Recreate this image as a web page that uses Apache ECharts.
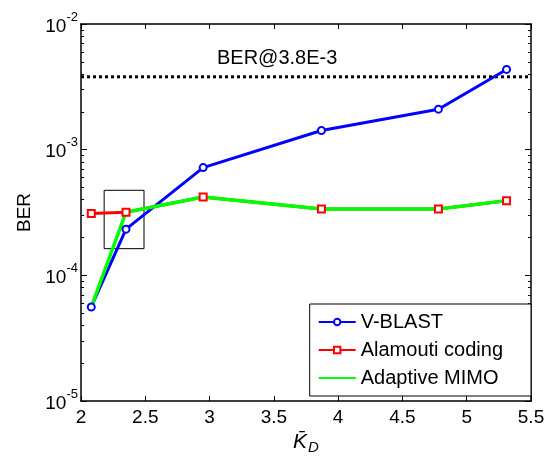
<!DOCTYPE html>
<html>
<head>
<meta charset="utf-8">
<script src="https://cdn.jsdelivr.net/npm/echarts@6/dist/echarts.min.js"></script>
<style>
  html, body { margin: 0; padding: 0; background: #fff; }
  #chart { width: 551px; height: 456px; }
</style>
</head>
<body>
<div id="chart"></div>
<script>
// K_D values (x) shared by all curves
const kd = [2.08, 2.35, 2.95, 3.87, 4.78, 5.31];
const vblast = [5.6e-5, 2.33e-4, 7.2e-4, 1.42e-3, 2.1e-3, 4.35e-3];
const alamouti = [3.1e-4, 3.18e-4, 4.2e-4, 3.37e-4, 3.37e-4, 3.93e-4];
const adaptive = [5.6e-5, 3.18e-4, 4.2e-4, 3.37e-4, 3.37e-4, 3.93e-4];
const seriesNames = ['V-BLAST', 'Alamouti coding', 'Adaptive MIMO'];
const berTarget = 3.8e-3;
const berTargetText = 'BER@3.8E-3';
const xRange = [2, 5.5];
const zoomBox = { x: [2.18, 2.49], y: [4.75e-4, 1.63e-4] };
const minorTicks = [];
for (let e = -5; e < -2; e++) {
    for (let k = 2; k <= 9; k++) minorTicks.push(k * Math.pow(10, e));
}

const pairs = function (ys) {
    return kd.map(function (x, i) { return [x, ys[i]]; });
};

const font = 'Liberation Sans, Arial, Helvetica, sans-serif';
const chart = echarts.init(document.getElementById('chart'));

const xBase = {
    type: 'value', min: xRange[0], max: xRange[1], interval: 0.5,
    axisLine: { lineStyle: { color: '#000', width: 1.5 } },
    axisTick: { inside: true, length: 5, lineStyle: { color: '#000', width: 1 } },
    splitLine: { show: false }
};
const yBase = {
    type: 'log', logBase: 10, min: 1e-5, max: 1e-2,
    axisLine: { lineStyle: { color: '#000', width: 1.5 } },
    splitLine: { show: false }
};

const option = {
    backgroundColor: '#fff',
    animation: false,
    textStyle: { fontFamily: font },
    grid: { left: 81, right: 20, top: 24, bottom: 55, outerBoundsMode: 'none' },
    title: {
        text: berTargetText,
        left: 217, top: 48, padding: 0,
        textStyle: { fontSize: 20, fontWeight: 'normal', color: '#000', fontFamily: font }
    },
    legend: {
        data: [
            { name: seriesNames[0] },
            { name: seriesNames[1] },
            { name: seriesNames[2], itemStyle: { opacity: 0 } }
        ],
        orient: 'vertical',
        right: 20, top: 304,
        padding: [8, 28, 8, 8],
        itemGap: 8,
        itemWidth: 37, itemHeight: 8,
        borderColor: '#000', borderWidth: 1,
        backgroundColor: '#fff',
        textStyle: { fontSize: 20, color: '#000', fontFamily: font }
    },
    xAxis: [
        Object.assign({}, xBase, {
            position: 'bottom',
            name: '{k|K\u0304}{d|D}',
            nameLocation: 'middle', nameGap: 29,
            nameTextStyle: {
                rich: {
                    k: { fontSize: 21, fontStyle: 'italic', color: '#000', fontFamily: font },
                    d: { fontSize: 15, fontStyle: 'italic', color: '#000', fontFamily: font, padding: [10, 0, 0, 1] }
                }
            },
            axisLabel: { fontSize: 19, color: '#000', margin: 7, fontFamily: font }
        }),
        Object.assign({}, xBase, { position: 'top', axisLabel: { show: false } })
    ],
    yAxis: [
        Object.assign({}, yBase, {
            position: 'left',
            name: 'BER', nameLocation: 'middle', nameGap: 45,
            nameTextStyle: { fontSize: 19, color: '#000', fontFamily: font },
            axisTick: { inside: true, length: 6, lineStyle: { color: '#000', width: 1 } },
            axisLabel: {
                margin: 3, color: '#000',
                formatter: function (v) {
                    return '{b|10}{s|' + Math.round(Math.log10(v)) + '}';
                },
                rich: {
                    b: { fontSize: 19, color: '#000', fontFamily: font, padding: [5, 0, 0, 0] },
                    s: { fontSize: 13, color: '#000', fontFamily: font, padding: [0, 0, 14, 0] }
                }
            }
        }),
        Object.assign({}, yBase, {
            position: 'left', axisLine: { show: false }, axisLabel: { show: false },
            axisTick: { inside: true, length: 3, customValues: minorTicks, lineStyle: { color: '#000', width: 1 } }
        }),
        Object.assign({}, yBase, {
            position: 'right', axisLabel: { show: false },
            axisTick: { inside: true, length: 6, lineStyle: { color: '#000', width: 1 } }
        }),
        Object.assign({}, yBase, {
            position: 'right', axisLine: { show: false }, axisLabel: { show: false },
            axisTick: { inside: true, length: 3, customValues: minorTicks, lineStyle: { color: '#000', width: 1 } }
        })
    ],
    series: [
        {
            name: 'target', type: 'line',
            data: [[xRange[0], berTarget], [xRange[1], berTarget]],
            symbol: 'none', silent: true, z: 1,
            lineStyle: { color: '#000', type: [3, 3], width: 3 },
            markArea: {
                silent: true,
                itemStyle: { color: 'rgba(0,0,0,0)', borderColor: '#000', borderWidth: 1 },
                data: [[{ xAxis: zoomBox.x[0], yAxis: zoomBox.y[0] }, { xAxis: zoomBox.x[1], yAxis: zoomBox.y[1] }]]
            }
        },
        {
            name: seriesNames[0], type: 'line', data: pairs(vblast),
            color: '#0000ff',
            symbol: 'emptyCircle', symbolSize: 7,
            lineStyle: { width: 3, color: '#0000ff' },
            itemStyle: { color: '#0000ff', borderWidth: 3 }
        },
        {
            name: seriesNames[1], type: 'line', data: pairs(alamouti),
            color: '#ff0000',
            symbol: 'emptyRect', symbolSize: 7,
            lineStyle: { width: 3, color: '#ff0000' },
            itemStyle: { color: '#ff0000', borderWidth: 3 }
        },
        {
            name: seriesNames[2], type: 'line', data: pairs(adaptive),
            color: '#00ff00',
            symbol: 'none',
            lineStyle: { width: 3.5, color: '#00ff00' }
        }
    ]
};

chart.setOption(option);
</script>
</body>
</html>
